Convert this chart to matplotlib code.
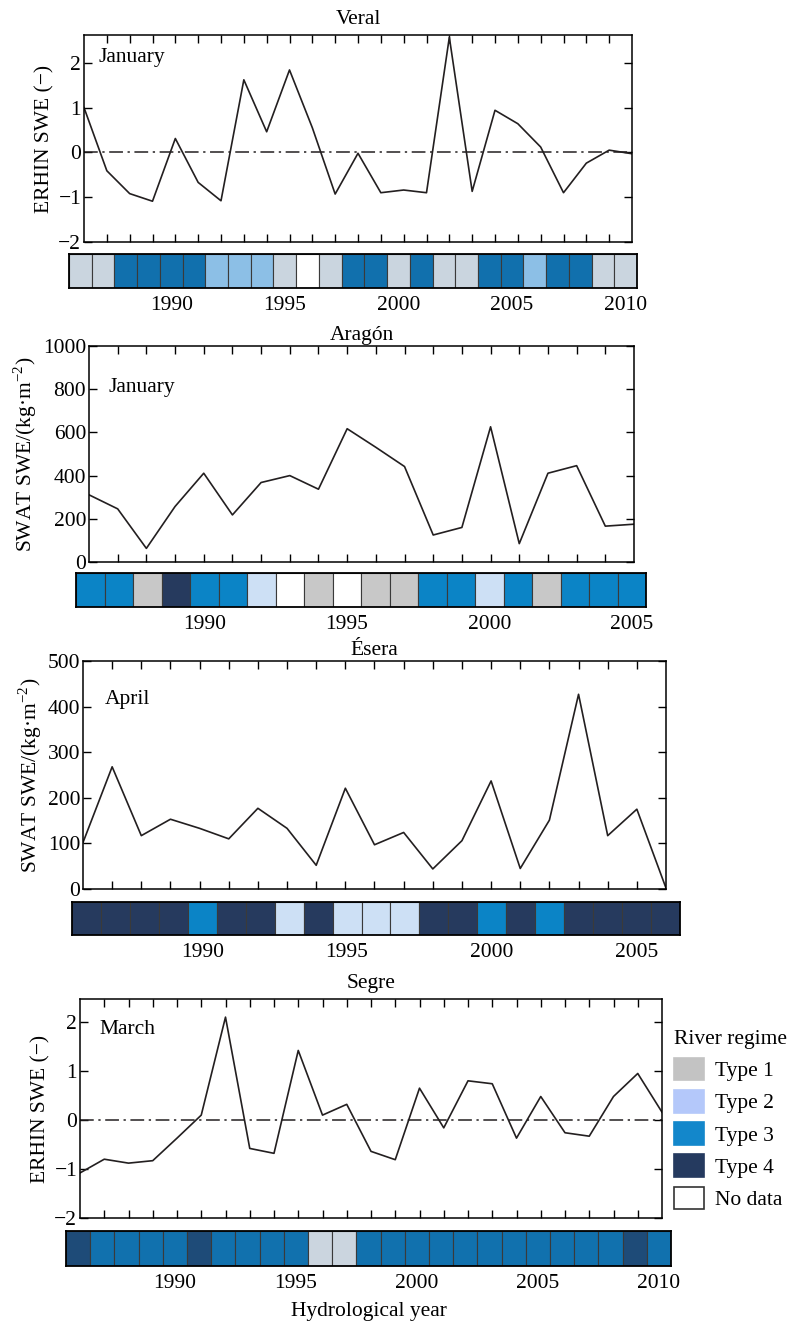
import matplotlib
matplotlib.use("Agg")
import matplotlib.pyplot as plt
from matplotlib.patches import Patch

plt.rcParams['font.family'] = ['Liberation Serif', 'DejaVu Serif']
plt.rcParams['mathtext.fontset'] = 'custom'
plt.rcParams['mathtext.rm'] = 'Liberation Serif'
plt.rcParams['font.size'] = 15.5

# ---- data ----
veral_years = list(range(1986, 2011))
veral_swe = [1.0, -0.41, -0.92, -1.09, 0.31, -0.67, -1.08, 1.62, 0.46, 1.84,
             0.55, -0.93, -0.02, -0.9, -0.84, -0.9, 2.57, -0.87, 0.94, 0.64,
             0.12, -0.9, -0.24, 0.05, -0.03]
veral_regime = [1, 1, 3, 3, 3, 3, 2, 2, 2, 1, 0, 1, 3, 3, 1, 3, 1, 1, 3, 3,
                2, 3, 3, 1, 1]

aragon_years = list(range(1986, 2006))
aragon_swe = [311, 246, 63, 257, 411, 218, 368, 400, 337, 617,
              531, 442, 125, 160, 626, 85, 411, 446, 166, 175]
aragon_regime = [3, 3, 1, 4, 3, 3, 2, 0, 1, 0, 1, 1, 3, 3, 2, 3, 1, 3, 3, 3]

esera_years = list(range(1986, 2007))
esera_swe = [102, 268, 117, 153, 133, 110, 177, 133, 52, 221,
             97, 124, 44, 106, 237, 45, 151, 427, 117, 175, 2]
esera_regime = [4, 4, 4, 4, 3, 4, 4, 2, 4, 2, 2, 2, 4, 4, 3, 4, 3, 4, 4, 4, 4]

segre_years = list(range(1986, 2011))
segre_swe = [-1.08, -0.8, -0.88, -0.83, -0.37, 0.1, 2.1, -0.58, -0.68, 1.42,
             0.1, 0.32, -0.64, -0.81, 0.65, -0.16, 0.8, 0.74, -0.37, 0.48,
             -0.26, -0.33, 0.48, 0.95, 0.16]
segre_regime = [4, 3, 3, 3, 3, 4, 3, 3, 3, 3, 1, 1, 3, 3, 3, 3, 3, 3, 3, 3,
                3, 3, 3, 4, 3]

legend_labels = ['Type 1', 'Type 2', 'Type 3', 'Type 4', 'No data']

# colour shades differ a little between panels in the original
pal_veral = {0: 'white', 1: '#cad5df', 2: '#8cbfe6', 3: '#1170ad', 4: '#1e4b78'}
pal_mid = {0: 'white', 1: '#c8c8c8', 2: '#cde0f5', 3: '#0b84c6', 4: '#263a5e'}
pal_segre = {0: 'white', 1: '#cbd5df', 2: '#8cbfe6', 3: '#1171ae', 4: '#1e4b78'}
pal_legend = ['#c3c3c3', '#b4c8fa', '#1387cb', '#253a5f', 'white']

W, H = 788, 1324
fig = plt.figure(figsize=(W / 100, H / 100), dpi=100)


def box(l, r, t, b):
    return [l / W, 1 - b / H, (r - l) / W, (b - t) / H]


def panel(ax_box, strip_box, title, month, month_xy, years, vals, ylim,
          yticks, ylabel, regime, pal, year_ticks, zero_line, title_pad):
    ax = fig.add_axes(box(*ax_box))
    ax.plot(years, vals, color='#231f20', lw=1.2)
    if zero_line:
        ax.axhline(0, color='#231f20', lw=1.1, ls='-.', dashes=(9, 3, 1.5, 3))
    ax.set_xlim(years[0], years[-1])
    ax.set_ylim(*ylim)
    ax.set_yticks(yticks)
    ax.set_xticks(years[1:-1])
    ax.tick_params(direction='in', top=True, right=True, length=6,
                   width=1, labelbottom=False, pad=2)
    ax.set_ylabel(ylabel, labelpad=3)
    ax.set_title(title, fontsize=15.5, pad=title_pad)
    ax.text(month_xy[0], month_xy[1], month, transform=ax.transAxes,
            va='center')
    for s in ax.spines.values():
        s.set_linewidth(1.1)

    sx = fig.add_axes(box(*strip_box))
    sx.bar(years, [1] * len(years), width=1.0,
           color=[pal[r] for r in regime], edgecolor='#3a3a3a', linewidth=0.8)
    sx.set_xlim(years[0] - 0.5, years[-1] + 0.5)
    sx.set_ylim(0, 1)
    sx.set_yticks([])
    sx.set_xticks(year_ticks)
    sx.tick_params(length=0, pad=6)
    for s in sx.spines.values():
        s.set_linewidth(1.3)
    return ax, sx


panel((84, 632, 35, 242), (69, 637, 254, 288), 'Veral', 'January',
      (0.027, 0.89), veral_years, veral_swe, (-2, 2.62), [-2, -1, 0, 1, 2],
      'ERHIN SWE (−)', veral_regime, pal_veral,
      [1990, 1995, 2000, 2005, 2010], True, 8)

panel((89, 634, 346, 562), (76, 646, 573, 607), 'Aragón', 'January',
      (0.035, 0.81), aragon_years, aragon_swe, (0, 1000),
      [0, 200, 400, 600, 800, 1000], 'SWAT SWE/(kg·m$^{-2}$)',
      aragon_regime, pal_mid, [1990, 1995, 2000, 2005], False, 4)

panel((83, 666, 661, 889), (72, 680, 902, 935), 'Ésera', 'April',
      (0.038, 0.83), esera_years, esera_swe, (0, 500),
      [0, 100, 200, 300, 400, 500], 'SWAT SWE/(kg·m$^{-2}$)',
      esera_regime, pal_mid, [1990, 1995, 2000, 2005], False, 4)

ax4, sx4 = panel((80, 662, 999, 1218), (66, 671, 1231, 1266), 'Segre',
                 'March', (0.034, 0.86), segre_years, segre_swe, (-2, 2.47),
                 [-2, -1, 0, 1, 2], 'ERHIN SWE (−)', segre_regime, pal_segre,
                 [1990, 1995, 2000, 2005, 2010], True, 8)
sx4.set_xlabel('Hydrological year', labelpad=6)

handles = []
for c, lab in zip(pal_legend, legend_labels):
    ec = '#333333' if lab == 'No data' else c
    handles.append(Patch(facecolor=c, edgecolor=ec, linewidth=1.2, label=lab))
fig.legend(handles=handles, title='River regime', loc='upper left',
           bbox_to_anchor=(674 / W, 1 - 1030 / H), frameon=False,
           handlelength=1.4, handleheight=1.25, handletextpad=0.5,
           labelspacing=0.4, borderpad=0, borderaxespad=0,
           alignment='left', title_fontsize=15.5, fontsize=15.5)

fig.savefig('out.png', dpi=100)
